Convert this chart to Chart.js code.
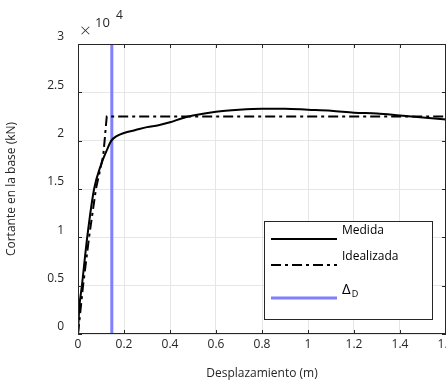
<!DOCTYPE html>
<html>
<head>
<meta charset="utf-8">
<script src="https://cdn.jsdelivr.net/npm/chart.js@4"></script>
<style>
html,body{margin:0;padding:0;background:#fff;overflow:hidden}
#wrap{width:470px;height:385px}
</style>
</head>
<body>
<div id="wrap"><canvas id="c" width="470" height="385"></canvas></div>
<script>
// datos (cortante en 1e4 kN)
const medidaX=[0,0.005,0.017,0.04,0.07,0.1,0.125,0.145,0.17,0.2,0.25,0.3,0.35,0.4,0.45,0.5,0.6,0.7,0.8,0.9,1.0,1.1,1.2,1.3,1.4,1.5,1.6];
const medidaY=[0,0.25,0.5,1.0,1.5,1.75,1.9,2.0,2.05,2.08,2.11,2.14,2.16,2.19,2.23,2.26,2.3,2.32,2.33,2.33,2.32,2.31,2.29,2.28,2.26,2.24,2.22];
const idealX=[0,0.022,0.048,0.078,0.11,0.125,1.6];
const idealY=[0,0.5,1.0,1.5,1.85,2.25,2.25];
const deltaD=0.147;
const xTicks=[0,0.2,0.4,0.6,0.8,1,1.2,1.4,1.6];
const yTicks=[0,0.5,1,1.5,2,2.5,3];
const FONT='"Open Sans", "Noto Sans", sans-serif';

const pts=(xs,ys)=>xs.map((x,i)=>({x,y:ys[i]}));

// marco, ticks hacia dentro, exponente y leyenda al estilo matlab
const matlabDeco={
  id:'matlabDeco',
  afterDraw(chart){
    const {ctx,chartArea:a,scales:{x,y}}=chart;
    ctx.save();
    ctx.strokeStyle='#262626';ctx.lineWidth=1;
    ctx.strokeRect(a.left+0.5,a.top+0.5,a.right-a.left-1,a.bottom-a.top-1);
    ctx.beginPath();
    xTicks.forEach(t=>{const px=Math.round(x.getPixelForValue(t))+0.5;
      ctx.moveTo(px,a.bottom);ctx.lineTo(px,a.bottom-4);ctx.moveTo(px,a.top);ctx.lineTo(px,a.top+4);});
    yTicks.forEach(t=>{const py=Math.round(y.getPixelForValue(t))+0.5;
      ctx.moveTo(a.left,py);ctx.lineTo(a.left+4,py);ctx.moveTo(a.right,py);ctx.lineTo(a.right-4,py);});
    ctx.stroke();
    // x 10^4
    ctx.fillStyle='#262626';ctx.textBaseline='middle';ctx.textAlign='left';
    ctx.font='300 19px '+FONT;ctx.fillText('\u00d7',80,32);
    ctx.font='13px '+FONT;ctx.fillText('10',95,23);
    ctx.font='12px '+FONT;ctx.fillText('4',116,16);
    // leyenda
    const lx=264,ly=221,lw=168,lh=98;
    ctx.fillStyle='#fff';ctx.fillRect(lx,ly,lw,lh);
    ctx.strokeStyle='#262626';ctx.lineWidth=1;ctx.strokeRect(lx+0.5,ly+0.5,lw,lh);
    const items=[
      {t:'Medida',y:239,c:'#000',w:2,d:[]},
      {t:'Idealizada',y:265,c:'#000',w:2,d:[10,4,3,4]},
      {t:'\u0394',sub:'D',y:298,c:'#7f7fff',w:3,d:[]}
    ];
    items.forEach(it=>{
      ctx.beginPath();ctx.setLineDash(it.d);ctx.strokeStyle=it.c;ctx.lineWidth=it.w;
      ctx.moveTo(271,it.y);ctx.lineTo(337,it.y);ctx.stroke();
      ctx.setLineDash([]);
      ctx.fillStyle='#000';ctx.font=(it.sub?'15px ':'12px ')+FONT;
      ctx.fillText(it.t,342,it.y-8);
      if(it.sub){const w=ctx.measureText(it.t).width;ctx.font='9px '+FONT;ctx.fillText(it.sub,343+w,it.y-4);}
    });
    ctx.restore();
  }
};

new Chart(document.getElementById('c'),{
  type:'scatter',
  data:{datasets:[
    {label:'Medida',data:pts(medidaX,medidaY),showLine:true,borderColor:'#000',borderWidth:2,pointRadius:0,cubicInterpolationMode:'monotone'},
    {label:'Idealizada',data:pts(idealX,idealY),showLine:true,borderColor:'#000',borderWidth:2,borderDash:[10,4,3,4],pointRadius:0,tension:0},
    {label:'\u0394D',data:[{x:deltaD,y:0},{x:deltaD,y:3}],showLine:true,borderColor:'#7f7fff',borderWidth:3,pointRadius:0}
  ]},
  options:{
    responsive:false,animation:false,
    layout:{padding:{top:44,right:24,left:0,bottom:0}},
    plugins:{legend:{display:false},tooltip:{enabled:false}},
    scales:{
      x:{type:'linear',min:0,max:1.6,
        afterBuildTicks:s=>{s.ticks=xTicks.map(v=>({value:v}));},
        afterFit:s=>{s.height=51;},
        grid:{color:'#e6e6e6',drawTicks:false,drawOnChartArea:true},
        border:{display:false},
        ticks:{color:'#262626',font:{family:FONT,size:12},padding:3,maxRotation:0,callback:v=>String(v)},
        title:{display:true,text:'Desplazamiento (m)',color:'#262626',font:{family:FONT,size:12},padding:{top:10}}
      },
      y:{type:'linear',min:0,max:3,
        afterBuildTicks:s=>{s.ticks=yTicks.map(v=>({value:v}));},
        afterFit:s=>{s.width=78;},
        grid:{color:'#e6e6e6',drawTicks:false},
        border:{display:false},
        ticks:{color:'#262626',font:{family:FONT,size:12},padding:14,labelOffset:-7,callback:v=>String(v)},
        title:{display:true,text:'Cortante en la base (kN)',color:'#262626',font:{family:FONT,size:12},padding:{bottom:14}}
      }
    }
  },
  plugins:[matlabDeco]
});
</script>
</body>
</html>
